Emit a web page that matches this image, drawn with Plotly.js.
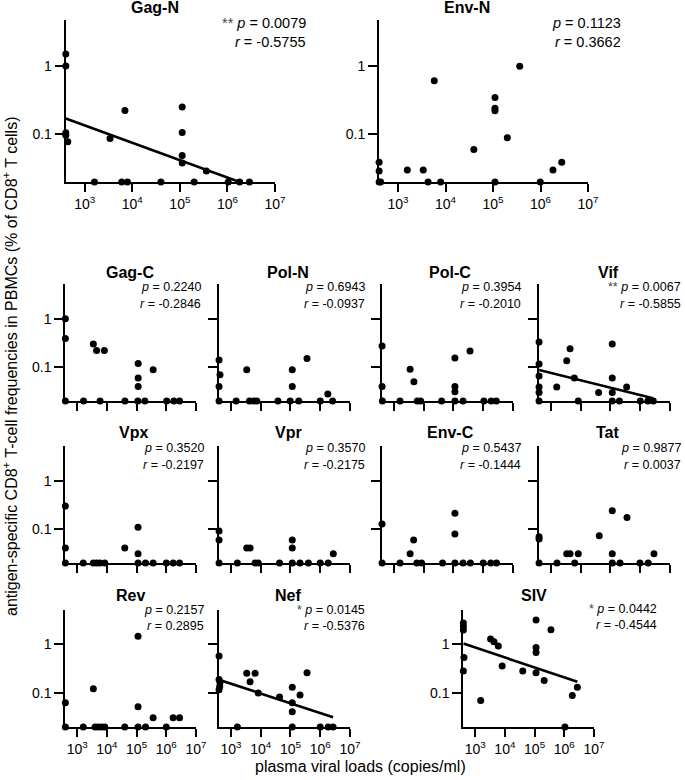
<!DOCTYPE html>
<html><head><meta charset="utf-8">
<script src="https://cdn.plot.ly/plotly-3.0.1.min.js"></script>
<style>html,body{margin:0;padding:0;background:#fff}#chart{width:685px;height:780px}</style>
</head><body><div id="chart"></div>
<script>
// ---------- DATA ----------
const panelNames = ['Gag-N','Env-N','Gag-C','Pol-N','Pol-C','Vif','Vpx','Vpr','Env-C','Tat','Rev','Nef','SIV'];
const pValues = ['0.0079','0.1123','0.2240','0.6943','0.3954','0.0067','0.3520','0.3570','0.5437','0.9877','0.2157','0.0145','0.0442'];
const rValues = ['-0.5755','0.3662','-0.2846','-0.0937','-0.2010','-0.5855','-0.2197','-0.2175','-0.1444','0.0037','0.2895','-0.5376','-0.4544'];
const sigStars = ['**','','','','','**','','','','','','*','*'];

const xTickVals = [1e3,1e4,1e5,1e6,1e7];
const xTickText = ['10<sup>3</sup>','10<sup>4</sup>','10<sup>5</sup>','10<sup>6</sup>','10<sup>7</sup>'];
const yTickVals = [0.1,1];
const yTickText = ['0.1','1'];

const gagN_vl   = [400,400,400,400,440,1600,3400,7000,6000,7900,40000,112000,112000,112000,112000,200000,360000,1040000,1800000,2900000];
const gagN_freq = [1.5,1.0,0.105,0.097,0.078,0.02,0.087,0.223,0.02,0.02,0.02,0.252,0.106,0.049,0.038,0.02,0.029,0.02,0.02,0.02];
const gagN_fitVL = [400,1800000];
const gagN_fitFreq = [0.17,0.02];

const envN_vl   = [400,400,400,430,1570,3400,4300,5800,7900,39500,110000,110000,110000,110000,200000,365000,990000,1830000,2800000];
const envN_freq = [0.039,0.029,0.02,0.02,0.03,0.03,0.02,0.61,0.02,0.06,0.346,0.24,0.222,0.02,0.089,0.99,0.02,0.03,0.039];

const gagC_vl   = [400,400,3500,4500,8200,113000,113000,113000,361000,400,1640,5900,40500,110000,190000,1030000,1800000,2800000];
const gagC_freq = [1.0,0.39,0.30,0.222,0.222,0.119,0.06,0.04,0.089,0.02,0.02,0.02,0.02,0.02,0.02,0.02,0.02,0.02];

const polN_vl   = [400,430,400,3400,115000,115000,360000,1800000,400,1500,4200,5800,7400,38000,98000,190000,1000000,2600000];
const polN_freq = [0.14,0.07,0.04,0.089,0.089,0.04,0.152,0.028,0.02,0.02,0.02,0.02,0.02,0.02,0.02,0.02,0.02,0.02];

const polC_vl   = [400,3500,4700,112000,360000,400,112000,112000,410,1600,6100,7900,40000,112000,210000,1050000,1850000,2750000];
const polC_freq = [0.274,0.091,0.05,0.155,0.215,0.04,0.04,0.031,0.02,0.02,0.02,0.02,0.02,0.02,0.02,0.02,0.02,0.02];

const vif_vl   = [400,400,400,400,400,400,1570,4400,3400,6100,40000,115000,115000,115000,350000,8300,115000,200000,1000000,1800000,2750000];
const vif_freq = [0.33,0.116,0.066,0.039,0.030,0.02,0.039,0.24,0.136,0.060,0.030,0.30,0.060,0.030,0.039,0.02,0.02,0.02,0.02,0.02,0.02];
const vif_fitVL = [400,2700000];
const vif_fitFreq = [0.0875,0.0228];

const vpx_vl   = [400,400,40000,112000,112000,400,1600,3500,4500,5800,8500,112000,200000,360000,1000000,1700000,2800000];
const vpx_freq = [0.30,0.041,0.041,0.11,0.031,0.02,0.02,0.02,0.02,0.02,0.02,0.02,0.02,0.02,0.02,0.02,0.02];

const vpr_vl   = [400,400,115000,3400,4400,115000,2750000,400,1650,6500,8300,43000,115000,210000,400000,1000000,1850000];
const vpr_freq = [0.092,0.06,0.06,0.041,0.041,0.041,0.031,0.02,0.02,0.02,0.02,0.02,0.02,0.02,0.02,0.02,0.02];

const envC_vl   = [400,4600,112000,112000,3500,400,1600,5900,8500,43000,112000,210000,370000,1000000,1800000,2800000];
const envC_freq = [0.128,0.06,0.213,0.08,0.031,0.02,0.02,0.02,0.02,0.02,0.02,0.02,0.02,0.02,0.02,0.02];

const tat_vl   = [400,400,42000,115000,360000,3400,4400,8300,115000,2900000,400,1600,6300,115000,210000,980000,1850000];
const tat_freq = [0.07,0.063,0.073,0.24,0.174,0.031,0.031,0.031,0.031,0.031,0.02,0.02,0.02,0.02,0.02,0.02,0.02];

const rev_vl   = [400,3500,112000,112000,360000,1700000,2800000,400,1600,4000,5100,6700,8500,40000,112000,200000,1000000];
const rev_freq = [0.063,0.122,1.48,0.052,0.031,0.031,0.031,0.02,0.02,0.02,0.02,0.02,0.02,0.02,0.02,0.02,0.02];

const nef_vl   = [400,400,430,420,400,3400,6500,4400,8300,43000,115000,115000,115000,210000,360000,1650,115000,1000000,1850000,2700000];
const nef_freq = [0.58,0.19,0.165,0.136,0.117,0.256,0.256,0.17,0.10,0.083,0.132,0.063,0.041,0.091,0.263,0.02,0.02,0.02,0.02,0.02];
const nef_fitVL = [400,2700000];
const nef_fitFreq = [0.187,0.0318];

const siv_vl   = [400,400,400,420,400,1530,3300,4300,6000,8100,40000,112000,112000,112000,112000,210000,355000,1050000,1860000,2750000];
const siv_freq = [2.72,2.3,1.95,0.53,0.28,0.070,1.27,1.12,0.92,0.356,0.28,3.14,0.85,0.67,0.26,0.18,1.98,0.02,0.089,0.13];
const siv_fitVL = [400,2750000];
const siv_fitFreq = [1.03,0.169];

// ---------- LAYOUT GEOMETRY (pixels) ----------
const W = 685, H = 780;
const FONT = 'Liberation Sans, Arial, Helvetica, sans-serif';
const geo = [
  {x0:65.7,x1:275,y0:20,y1:182,tx:155,ty:8,sx:308,sy1:23,sy2:42,fs:14.5,ytop:0.675,xl:true,yl:true},
  {x0:379,x1:588,y0:20,y1:182,tx:467,ty:8,sx:623,sy1:23,sy2:42,fs:14.5,ytop:0.675,xl:true,yl:true},
  {x0:65.3,x1:196,y0:284,y1:401,tx:130,ty:272,sx:203,sy1:287,sy2:304,fs:12.5,ytop:0.72,xl:false,yl:true},
  {x0:219,x1:350,y0:284,y1:401,tx:288,ty:272,sx:367,sy1:287,sy2:304,fs:12.5,ytop:0.72,xl:false,yl:false},
  {x0:382,x1:513,y0:284,y1:401,tx:450,ty:272,sx:523,sy1:287,sy2:304,fs:12.5,ytop:0.72,xl:false,yl:false},
  {x0:539,x1:670,y0:284,y1:401,tx:608,ty:272,sx:683,sy1:287,sy2:304,fs:12.5,ytop:0.72,xl:false,yl:false},
  {x0:65.3,x1:196,y0:446,y1:563,tx:133,ty:432,sx:206,sy1:448,sy2:465,fs:12.5,ytop:0.72,xl:false,yl:true},
  {x0:219,x1:350,y0:446,y1:563,tx:288,ty:432,sx:367,sy1:448,sy2:465,fs:12.5,ytop:0.72,xl:false,yl:false},
  {x0:382,x1:513,y0:446,y1:563,tx:450,ty:432,sx:523,sy1:448,sy2:465,fs:12.5,ytop:0.72,xl:false,yl:false},
  {x0:539,x1:670,y0:446,y1:563,tx:607,ty:432,sx:683,sy1:448,sy2:465,fs:12.5,ytop:0.72,xl:false,yl:false},
  {x0:65.3,x1:196,y0:610,y1:727,tx:130,ty:595,sx:206,sy1:610,sy2:626,fs:12.5,ytop:0.71,xl:true,yl:true},
  {x0:219,x1:350,y0:610,y1:727,tx:288,ty:595,sx:367,sy1:610,sy2:626,fs:12.5,ytop:0.71,xl:true,yl:false},
  {x0:463.3,x1:594,y0:610,y1:727,tx:534,ty:595,sx:659,sy1:609,sy2:625,fs:12.5,ytop:0.70,xl:true,yl:true}
];

const series = [
  [gagN_vl,gagN_freq],[envN_vl,envN_freq],[gagC_vl,gagC_freq],[polN_vl,polN_freq],
  [polC_vl,polC_freq],[vif_vl,vif_freq],[vpx_vl,vpx_freq],[vpr_vl,vpr_freq],
  [envC_vl,envC_freq],[tat_vl,tat_freq],[rev_vl,rev_freq],[nef_vl,nef_freq],[siv_vl,siv_freq]
];
const fits = {0:[gagN_fitVL,gagN_fitFreq],5:[vif_fitVL,vif_fitFreq],11:[nef_fitVL,nef_fitFreq],12:[siv_fitVL,siv_fitFreq]};

const px = x => x / W;
const py = y => 1 - y / H;

const traces = [];
const layout = {
  width: W, height: H,
  margin: {l:0,r:0,t:0,b:0},
  paper_bgcolor: '#fff', plot_bgcolor: '#fff',
  showlegend: false,
  font: {family: FONT, color: '#000'},
  annotations: []
};

geo.forEach((g, i) => {
  const n = i === 0 ? '' : String(i + 1);
  const xa = 'x' + n, ya = 'y' + n;
  traces.push({
    type: 'scatter', mode: 'markers', x: series[i][0], y: series[i][1],
    xaxis: xa, yaxis: ya, cliponaxis: false,
    marker: {color: '#000', size: 7}, hoverinfo: 'skip'
  });
  if (fits[i]) {
    traces.push({
      type: 'scatter', mode: 'lines', x: fits[i][0], y: fits[i][1],
      xaxis: xa, yaxis: ya, cliponaxis: false,
      line: {color: '#000', width: 2.6}, hoverinfo: 'skip'
    });
  }
  layout['xaxis' + n] = {
    domain: [px(g.x0), px(g.x1)], anchor: ya, type: 'log', range: [2.6, 7],
    showline: true, linecolor: '#000', linewidth: 2, mirror: false,
    ticks: 'outside', ticklen: 8, tickwidth: 2, tickcolor: '#000',
    tickmode: 'array', tickvals: xTickVals, ticktext: xTickText,
    showticklabels: g.xl, tickfont: {family: FONT, size: 14, color: '#000'},
    showgrid: false, zeroline: false, fixedrange: true
  };
  layout['yaxis' + n] = {
    domain: [py(g.y1), py(g.y0)], anchor: xa, type: 'log', range: [Math.log10(0.02), g.ytop],
    showline: true, linecolor: '#000', linewidth: 2, mirror: false,
    ticks: 'outside', ticklen: 9, tickwidth: 2, tickcolor: '#000',
    tickmode: 'array', tickvals: yTickVals, ticktext: yTickText,
    showticklabels: g.yl, tickfont: {family: FONT, size: 14, color: '#000'},
    showgrid: false, zeroline: false, fixedrange: true
  };
  layout.annotations.push({
    xref: 'paper', yref: 'paper', x: px(g.tx), y: py(g.ty), xanchor: 'center', yanchor: 'middle',
    text: '<b>' + panelNames[i] + '</b>', showarrow: false,
    font: {family: FONT, size: 16, color: '#000'}
  });
  const star = sigStars[i] ? '<span style="color:#444">' + sigStars[i] + '</span> ' : '';
  layout.annotations.push({
    xref: 'paper', yref: 'paper', x: px(g.sx), y: py(g.sy1), xanchor: 'right', yanchor: 'middle',
    text: star + '<i>p</i> = ' + pValues[i], showarrow: false,
    font: {family: FONT, size: g.fs, color: '#000'}
  });
  layout.annotations.push({
    xref: 'paper', yref: 'paper', x: px(g.sx), y: py(g.sy2), xanchor: 'right', yanchor: 'middle',
    text: '<i>r</i> = ' + rValues[i], showarrow: false,
    font: {family: FONT, size: g.fs, color: '#000'}
  });
});

layout.annotations.push({
  xref: 'paper', yref: 'paper', x: px(10), y: py(366), xanchor: 'center', yanchor: 'middle',
  textangle: -90, showarrow: false,
  text: 'antigen-specific CD8<sup>+</sup> T-cell frequencies in PBMCs (% of CD8<sup>+</sup> T cells)',
  font: {family: FONT, size: 16, color: '#000'}
});
layout.annotations.push({
  xref: 'paper', yref: 'paper', x: px(360), y: py(766), xanchor: 'center', yanchor: 'middle',
  showarrow: false, text: 'plasma viral loads (copies/ml)',
  font: {family: FONT, size: 16, color: '#000'}
});

Plotly.newPlot('chart', traces, layout, {staticPlot: true, displayModeBar: false});
</script>
</body></html>
